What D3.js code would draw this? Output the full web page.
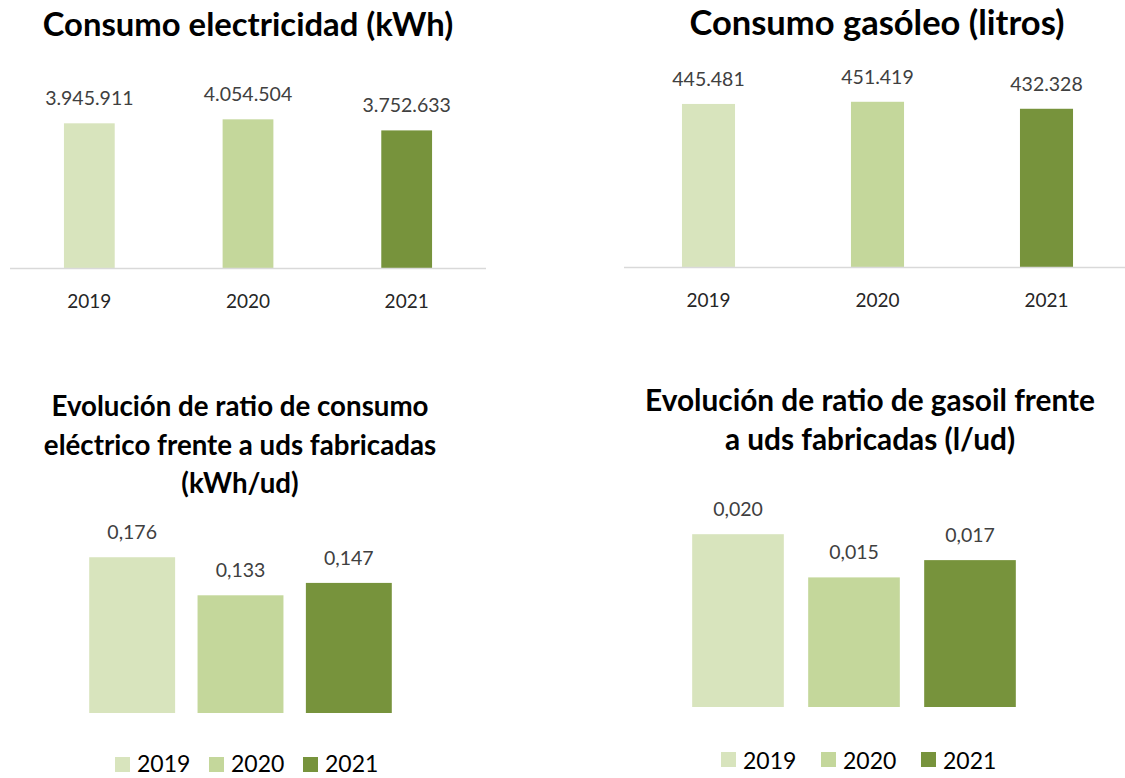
<!DOCTYPE html>
<html lang="es">
<head>
<meta charset="UTF-8">
<title>Consumos energéticos</title>
<script src="https://d3js.org/d3.v7.min.js"></script>
<style>
    body { margin: 0; background: #fff; font-family: Lato, 'Open Sans', sans-serif; }
    svg { display: block; }
    .title { font-weight: bold; fill: #000; }
    .value { fill: #404040; }
    .tick-label { fill: #262626; }
    .legend-text { fill: #000; }
</style>
</head>
<body>
<svg id="chart" width="1125" height="778"></svg>
<script>
    const years = ["2019", "2020", "2021"];
    const yearColors = ["#d8e4bd", "#c4d79b", "#77933c"];

    const electricidad = [3945911, 4054504, 3752633];
    const gasoleo = [445481, 451419, 432328];
    const ratioElectrico = [0.176, 0.133, 0.147];
    const ratioGasoil = [0.020, 0.015, 0.017];

    const fmtMiles = d3.formatLocale({ decimal: ",", thousands: ".", grouping: [3], currency: ["", "€"] }).format(",d");
    const fmtRatio = d => d.toFixed(3).replace(".", ",");

    const svg = d3.select("#chart");
    const color = d3.scaleOrdinal().domain(years).range(yearColors);

    // each panel: where its bars go, its title, and whether it has an axis or a legend
    const panels = [
        { values: electricidad, fmt: fmtMiles, title: ["Consumo electricidad (kWh)"], titleX: 248, titleY: 36, titleSize: 32.8, lineH: 0,
          x: [10, 486], inner: 0.68, y: [0, 4500000], yRange: [268, 103], axis: [10, 486], legend: null },
        { values: gasoleo, fmt: fmtMiles, title: ["Consumo gasóleo (litros)"], titleX: 877, titleY: 35, titleSize: 34.5, lineH: 0,
          x: [624, 1131], inner: 0.686, y: [0, 500000], yRange: [267, 84], axis: [624, 1125], legend: null },
        { values: ratioElectrico, fmt: fmtRatio,
          title: ["Evolución de ratio de consumo", "eléctrico frente a uds fabricadas", "(kWh/ud)"],
          titleX: 240, titleY: 416, titleSize: 27.7, lineH: 38.5,
          x: [78, 403], inner: 0.207, y: [0, 0.2], yRange: [713, 536], axis: null, legend: { x: 115, y: 765, step: 94 } },
        { values: ratioGasoil, fmt: fmtRatio,
          title: ["Evolución de ratio de gasoil frente", "a uds fabricadas (l/ud)"],
          titleX: 870, titleY: 411, titleSize: 29.8, lineH: 39,
          x: [680, 1028], inner: 0.21, y: [0, 0.025], yRange: [707, 491], axis: null, legend: { x: 721, y: 760, step: 100 } }
    ];

    panels.forEach(p => {
        const g = svg.append("g");
        const x = d3.scaleBand().domain(years).range(p.x).paddingInner(p.inner).paddingOuter(p.inner / 2);
        const y = d3.scaleLinear().domain(p.y).range(p.yRange);
        const data = years.map((yr, i) => ({ year: yr, value: p.values[i] }));

        g.append("text").attr("class", "title")
            .attr("text-anchor", "middle")
            .style("font-size", p.titleSize + "px")
            .selectAll("tspan").data(p.title).join("tspan")
            .attr("x", p.titleX)
            .attr("y", (d, i) => p.titleY + i * p.lineH)
            .text(d => d);

        g.selectAll("rect.bar").data(data).join("rect")
            .attr("class", "bar")
            .attr("x", d => x(d.year))
            .attr("width", x.bandwidth())
            .attr("y", d => y(d.value))
            .attr("height", d => y(0) - y(d.value))
            .attr("fill", d => color(d.year));

        g.selectAll("text.value").data(data).join("text")
            .attr("class", "value")
            .attr("text-anchor", "middle")
            .style("font-size", "19.5px")
            .attr("x", d => x(d.year) + x.bandwidth() / 2)
            .attr("y", d => y(d.value) - 18)
            .text(d => p.fmt(d.value));

        if (p.axis) {
            g.append("line")
                .attr("x1", p.axis[0]).attr("x2", p.axis[1])
                .attr("y1", y(0) + 0.5).attr("y2", y(0) + 0.5)
                .attr("stroke", "#d9d9d9").attr("stroke-width", 1.5);
            g.selectAll("text.tick-label").data(years).join("text")
                .attr("class", "tick-label")
                .attr("text-anchor", "middle")
                .style("font-size", "19px")
                .attr("x", d => x(d) + x.bandwidth() / 2)
                .attr("y", y(0) + 40)
                .text(d => d);
        }

        if (p.legend) {
            const item = g.selectAll("g.legend").data(years).join("g")
                .attr("class", "legend")
                .attr("transform", (d, i) => `translate(${p.legend.x + i * p.legend.step},${p.legend.y})`);
            item.append("rect")
                .attr("x", 0).attr("y", -8).attr("width", 15).attr("height", 15)
                .attr("fill", d => color(d));
            item.append("text").attr("class", "legend-text")
                .attr("x", 22).attr("y", Math.min(8.5, 772 - p.legend.y))
                .style("font-size", "23px")
                .text(d => d);
        }
    });
</script>
</body>
</html>
